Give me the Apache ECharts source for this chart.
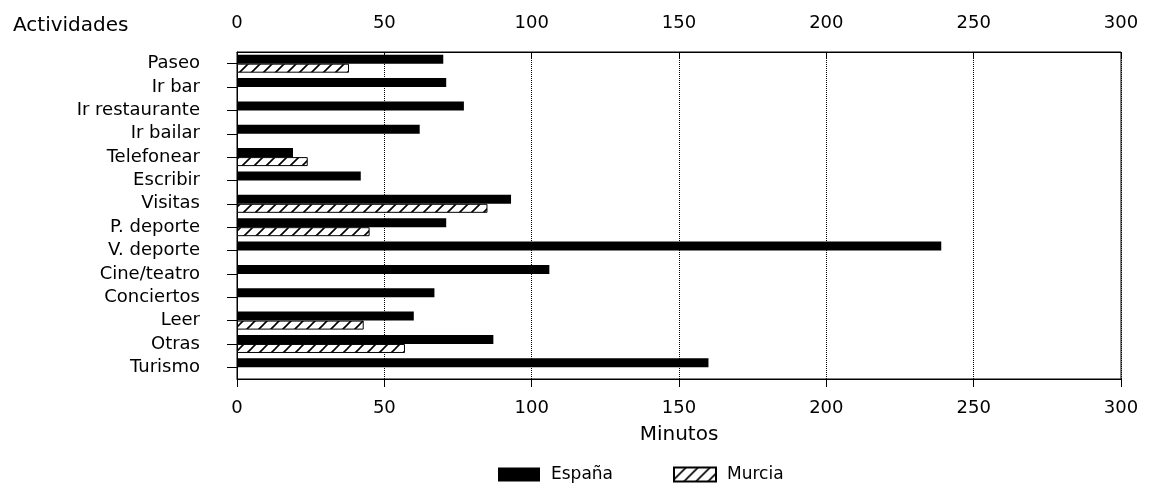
<!DOCTYPE html>
<html>
<head>
<meta charset="utf-8">
<script src="https://cdn.jsdelivr.net/npm/echarts@6/dist/echarts.min.js"></script>
<style>
  html, body { margin: 0; padding: 0; background: #fff; }
  #chart-wrapper { width: 1150px; height: 491px; }
</style>
</head>
<body>
<div id="chart-wrapper"></div>
<script>
const categories = ['Paseo', 'Ir bar', 'Ir restaurante', 'Ir bailar', 'Telefonear', 'Escribir', 'Visitas',
  'P. deporte', 'V. deporte', 'Cine/teatro', 'Conciertos', 'Leer', 'Otras', 'Turismo']
const espana = [70, 71, 77, 62, 19, 42, 93, 71, 239, 106, 67, 60, 87, 160]
const murcia = [38, null, null, null, 24, null, 85, 45, null, null, null, 43, 57, null]
const xTicks = [0, 50, 100, 150, 200, 250, 300]

const FONT = 'DejaVu Sans'

// diagonal hatch for Murcia
function hatch () {
  let c = document.createElement('canvas')
  c.width = 12
  c.height = 12
  let ctx = c.getContext('2d')
  ctx.fillStyle = '#fff'
  ctx.fillRect(0, 0, 12, 12)
  ctx.strokeStyle = '#000'
  ctx.lineWidth = 1.6
  ctx.beginPath()
  ctx.moveTo(0, 12); ctx.lineTo(12, 0)
  ctx.moveTo(-6, 6); ctx.lineTo(6, -6)
  ctx.moveTo(6, 18); ctx.lineTo(18, 6)
  ctx.stroke()
  return c
}

let chart = echarts.init(document.getElementById('chart-wrapper'))
let valueAxis = {
  type: 'value',
  min: xTicks[0],
  max: xTicks[xTicks.length - 1],
  interval: 50,
  axisLine: { show: true, lineStyle: { color: '#000', width: 1 } },
  axisTick: { show: true, length: 8, lineStyle: { color: '#000' } },
  axisLabel: { color: '#000', fontFamily: FONT, fontSize: 18, margin: 20 }
}
let option = {
  animation: false,
  title: {
    text: 'Actividades',
    left: 8,
    top: 11,
    textStyle: { color: '#000', fontFamily: FONT, fontSize: 20, fontWeight: 'normal' }
  },
  grid: {
    left: 237, right: 29, top: 52, bottom: 112,
    show: true, borderColor: '#000', borderWidth: 1, backgroundColor: 'transparent'
  },
  legend: {
    bottom: 3,
    left: 493,
    icon: 'rect',
    itemWidth: 42,
    itemHeight: 14,
    itemGap: 60,
    textStyle: { color: '#000', fontFamily: FONT, fontSize: 17, padding: [0, 0, 0, 6] },
    data: ['España', 'Murcia']
  },
  xAxis: [
    Object.assign({}, valueAxis, {
      position: 'bottom',
      name: 'Minutos',
      nameLocation: 'middle',
      nameGap: 46,
      nameTextStyle: { color: '#000', fontFamily: FONT, fontSize: 20 },
      splitLine: { show: true, lineStyle: { color: '#000', type: 'dotted', width: 1 } }
    }),
    Object.assign({}, valueAxis, {
      position: 'top',
      axisTick: { show: true, inside: true, length: 6, lineStyle: { color: '#000' } },
      splitLine: { show: false }
    })
  ],
  yAxis: {
    type: 'category',
    inverse: true,
    data: categories,
    axisLine: { show: true, lineStyle: { color: '#000' } },
    axisTick: { show: true, alignWithLabel: true, interval: 0, length: 10, lineStyle: { color: '#000' } },
    axisLabel: { color: '#000', fontFamily: FONT, fontSize: 18, margin: 37, interval: 0 }
  },
  series: [
    {
      name: 'España',
      type: 'bar',
      xAxisIndex: 0,
      data: espana,
      barWidth: 9,
      barGap: '0%',
      itemStyle: { color: '#000' }
    },
    {
      name: 'Murcia',
      type: 'bar',
      xAxisIndex: 0,
      data: murcia,
      barWidth: 9,
      barGap: '0%',
      itemStyle: { color: { image: hatch(), repeat: 'repeat' }, borderColor: '#000', borderWidth: 1 }
    }
  ]
}
chart.setOption(option)
</script>
</body>
</html>
